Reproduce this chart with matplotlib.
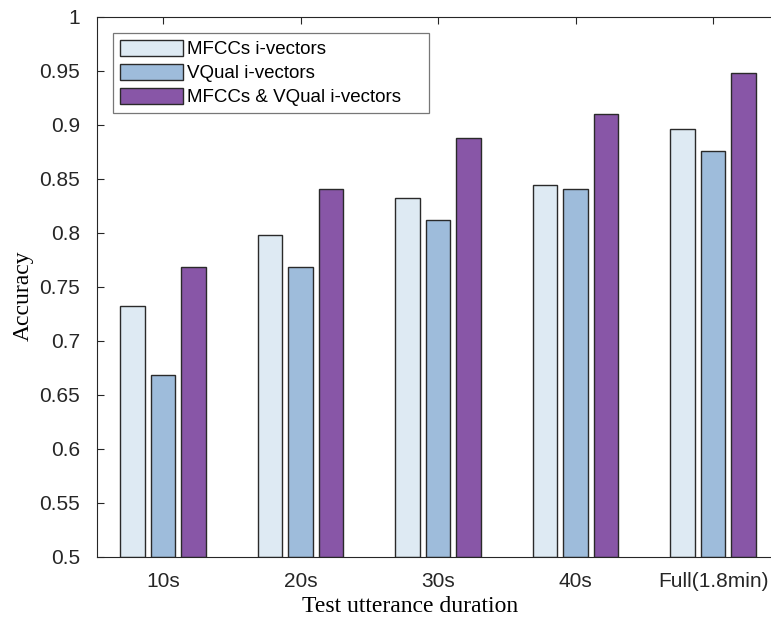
import matplotlib
matplotlib.use("Agg")
import matplotlib.pyplot as plt
import numpy as np

categories = ["10s", "20s", "30s", "40s", "Full(1.8min)"]
series_names = ["MFCCs i-vectors", "VQual i-vectors", "MFCCs & VQual i-vectors"]
mfcc = [0.732, 0.798, 0.832, 0.844, 0.896]
vqual = [0.668, 0.768, 0.812, 0.840, 0.876]
combined = [0.768, 0.840, 0.888, 0.910, 0.948]
yticks = [0.5, 0.55, 0.6, 0.65, 0.7, 0.75, 0.8, 0.85, 0.9, 0.95, 1.0]
ytick_labels = ["0.5", "0.55", "0.6", "0.65", "0.7", "0.75", "0.8", "0.85", "0.9", "0.95", "1"]

colors = ["#deeaf3", "#9ebcdb", "#8856a7"]

W, H = 771, 621
fig = plt.figure(figsize=(W / 100, H / 100), dpi=100)
left_px, bottom_px, top_px = 96.7, 557.0, 16.5
unit = 137.5
x0_px = 163.0
xmin = 1 - (x0_px - left_px) / unit
xmax = 5.5
width_px = (xmax - xmin) * unit
height_px = bottom_px - top_px
ax = fig.add_axes([left_px / W, 1 - bottom_px / H, width_px / W, height_px / H])

x = np.arange(1, len(categories) + 1)
bw = 0.178
off = 0.223
for i, (vals, c, name) in enumerate(zip([mfcc, vqual, combined], colors, series_names)):
    ax.bar(x + (i - 1) * off, np.array(vals) - 0.5, bottom=0.5, width=bw, color=c,
           edgecolor="#2a2a2a", linewidth=1.0, label=name, zorder=2)

ax.set_xlim(xmin, xmax)
ax.set_ylim(0.5, 1.0)
ax.set_xticks(x)
ax.set_xticklabels(categories, fontname="Liberation Sans", fontsize=15)
ax.set_yticks(yticks)
ax.set_yticklabels(ytick_labels, fontname="Liberation Sans", fontsize=15)
ax.tick_params(direction="in", length=5, width=0.8, color="#262626", labelcolor="#262626",
               top=True, right=False)
ax.tick_params(axis="y", pad=12)
ax.tick_params(axis="x", pad=11)
for s in ax.spines.values():
    s.set_color("#262626")
    s.set_linewidth(0.8)
ax.spines["right"].set_visible(False)

ax.set_xlabel("Test utterance duration", fontname="Liberation Serif", fontsize=17)
ax.xaxis.set_label_coords((410 - left_px) / width_px, -(606 - 557) / height_px, transform=ax.transAxes)
ax.xaxis.label.set_va("center")
ax.set_ylabel("Accuracy", fontname="Liberation Serif", fontsize=17)
ax.yaxis.set_label_coords(-(left_px - 23) / width_px, (557 - 296) / height_px, transform=ax.transAxes)
ax.yaxis.label.set_va("center")

lx0 = (113 - left_px) / width_px
lw = (429 - 113) / width_px
ly1 = (557 - 33) / height_px
lh = (112 - 33) / height_px
leg = ax.legend(loc="upper left", bbox_to_anchor=(lx0, ly1 - lh, lw, lh), mode="expand",
                prop={"family": "Liberation Sans", "size": 13.5},
                handlelength=3.4, handleheight=0.95, handletextpad=0.2, labelspacing=0.3,
                borderpad=0.35, borderaxespad=0.0, fancybox=False, frameon=True)
leg.get_frame().set_edgecolor("#555555")
leg.get_frame().set_linewidth(0.9)

fig.savefig("out.png", dpi=100)
